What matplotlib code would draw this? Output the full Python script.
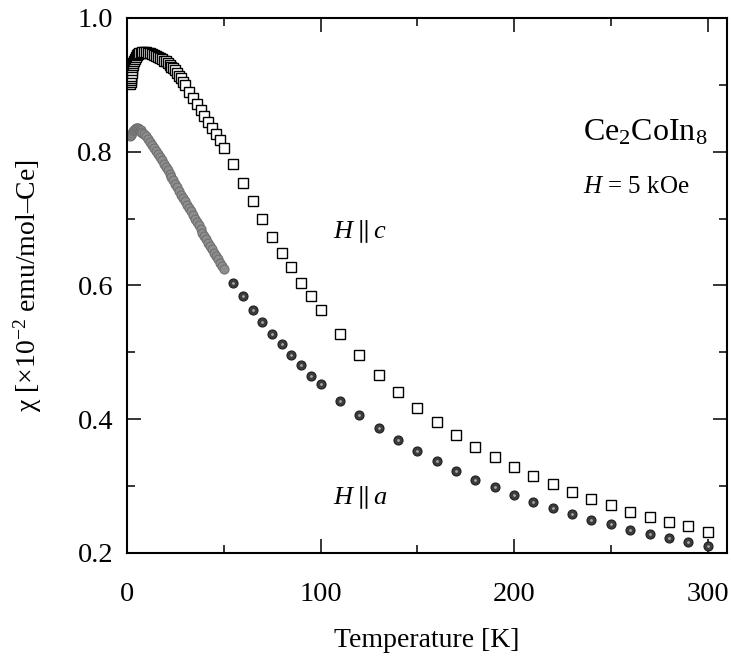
import matplotlib
matplotlib.use('Agg')
import matplotlib.pyplot as plt
from matplotlib.ticker import MultipleLocator

plt.rcParams['font.family'] = ['Liberation Serif', 'DejaVu Serif']
plt.rcParams['mathtext.fontset'] = 'custom'
plt.rcParams['mathtext.rm'] = 'Liberation Serif'
plt.rcParams['mathtext.it'] = 'Liberation Serif:italic'

# H || c, dense low-T run
t_c_dense = [1.8, 1.9, 2.0, 2.1, 2.2, 2.4, 2.6, 2.8, 3.0, 3.3, 3.6, 4.0, 4.5, 5, 5.5, 6, 7, 8, 9, 10,
             11, 12, 13, 14, 15, 16, 17, 18, 19, 20, 21, 22, 23, 24, 25, 26, 27, 28, 29,
             30, 32, 34, 36, 38, 40, 42, 44, 46, 48]
chi_c_dense = [0.902, 0.905, 0.908, 0.911, 0.914, 0.918, 0.922, 0.926, 0.929, 0.933, 0.936, 0.939,
               0.942, 0.944, 0.946, 0.947, 0.948, 0.949, 0.949, 0.949,
               0.948, 0.947, 0.946, 0.945, 0.943, 0.942, 0.940, 0.938, 0.936, 0.935, 0.933, 0.930,
               0.927, 0.925, 0.922, 0.918, 0.914, 0.910, 0.905,
               0.900, 0.890, 0.880, 0.871, 0.862, 0.853, 0.845, 0.836, 0.827, 0.817]

# H || c, sparse run
t_c = [50, 55, 60, 65, 70, 75, 80, 85, 90, 95, 100, 110, 120, 130, 140, 150, 160, 170, 180, 190,
       200, 210, 220, 230, 240, 250, 260, 270, 280, 290, 300]
chi_c = [0.806, 0.781, 0.753, 0.726, 0.699, 0.673, 0.649, 0.627, 0.604, 0.584, 0.563, 0.528, 0.496,
         0.466, 0.441, 0.417, 0.396, 0.376, 0.359, 0.343, 0.329, 0.315, 0.303, 0.291, 0.281, 0.271,
         0.261, 0.254, 0.247, 0.240, 0.232]

# H || a, dense low-T run
t_a_dense = [1.5, 2, 2.5, 3, 3.5, 4, 4.5, 5, 5.5, 6, 6.5, 7, 7.5, 8, 9, 10, 11, 12, 13, 14, 15,
             16, 17, 18, 19, 20, 21, 22, 23, 24, 25, 26, 27, 28, 29, 30, 31, 32, 33, 34, 35,
             36, 37, 38, 39, 40, 41, 42, 43, 44, 45, 46, 47, 48, 49, 50]
chi_a_dense = [0.823, 0.825, 0.828, 0.831, 0.833, 0.834, 0.835, 0.835, 0.835, 0.834, 0.833, 0.832,
               0.830, 0.828, 0.826, 0.823, 0.819, 0.814, 0.810, 0.805, 0.801,
               0.796, 0.792, 0.787, 0.782, 0.777, 0.772, 0.767, 0.762, 0.757, 0.752, 0.747, 0.742,
               0.736, 0.731, 0.726, 0.721, 0.716, 0.711, 0.705, 0.700,
               0.695, 0.690, 0.684, 0.679, 0.674, 0.669, 0.664, 0.659, 0.654, 0.649, 0.644, 0.639,
               0.634, 0.629, 0.625]

# H || a, sparse run
t_a = [55, 60, 65, 70, 75, 80, 85, 90, 95, 100, 110, 120, 130, 140, 150, 160, 170, 180, 190,
       200, 210, 220, 230, 240, 250, 260, 270, 280, 290, 300]
chi_a = [0.604, 0.584, 0.564, 0.545, 0.527, 0.512, 0.496, 0.481, 0.465, 0.452, 0.428, 0.407, 0.387,
         0.369, 0.352, 0.337, 0.322, 0.309, 0.298, 0.286, 0.276, 0.267, 0.259, 0.250, 0.243, 0.235,
         0.229, 0.222, 0.216, 0.210]

fig = plt.figure(figsize=(7.31, 6.64), dpi=100)
ax = fig.add_axes([0.1737, 0.1672, 0.8208, 0.8057])

ax.plot(t_a_dense, chi_a_dense, 'o', ms=6.5, mfc='#8e8e8e', mec='#707070', mew=0.8)
ax.plot(t_a, chi_a, 'o', ms=6.5, mfc='#3c3c3c', mec='#1e1e1e', mew=0.8)
ax.plot(t_a, chi_a, 'o', ms=2.0, mfc='#a8a8a8', mec='none')
ax.plot(t_c_dense, chi_c_dense, 's', ms=7, mfc='white', mec='black', mew=1.0)
ax.plot(t_c, chi_c, 's', ms=7, mfc='white', mec='black', mew=1.0)

ax.set_xlim(0, 310)
ax.set_ylim(0.2, 1.0)
ax.xaxis.set_major_locator(MultipleLocator(100))
ax.xaxis.set_minor_locator(MultipleLocator(50))
ax.yaxis.set_minor_locator(MultipleLocator(0.1))
ax.set_yticks([0.2, 0.4, 0.6, 0.8, 1.0])
ax.set_yticklabels(['0.2', '0.4', '0.6', '0.8', '1.0'])

ax.tick_params(which='both', direction='in', top=True, right=True, width=1.1, labelsize=20.5)
ax.tick_params(which='major', length=10)
ax.tick_params(which='minor', length=5.5)
ax.tick_params(axis='x', pad=21)
ax.tick_params(axis='y', pad=10)
for s in ax.spines.values():
    s.set_linewidth(1.5)

ax.set_xlabel('Temperature [K]', fontsize=20, labelpad=15)
ax.set_ylabel('χ [×10$^{−2}$ emu/mol–Ce]', fontsize=20, labelpad=24)

ax.text(235.7, 0.828, r'Ce$_2$CoIn$_8$', fontsize=23, va='center', ha='left')
ax.text(235.7, 0.747, r'$H$ = 5 kOe', fontsize=18, va='center', ha='left')
ax.text(106.4, 0.680, r'$H \parallel c$', fontsize=19, va='center', ha='left')
ax.text(106.4, 0.283, r'$H \parallel a$', fontsize=19, va='center', ha='left')

fig.savefig('out.png', dpi=100)
